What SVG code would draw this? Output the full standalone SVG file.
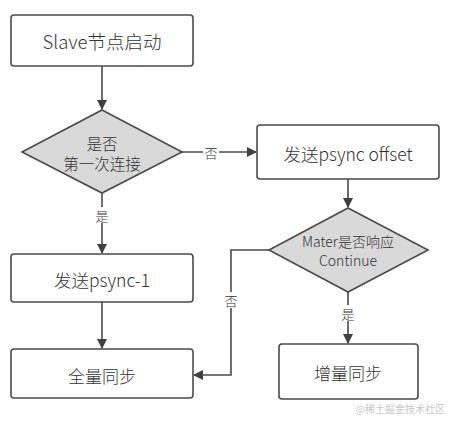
<svg xmlns="http://www.w3.org/2000/svg" width="449" height="421" viewBox="0 0 449 421">
<defs>
<marker id="ah" markerWidth="10" markerHeight="10" refX="9" refY="5" orient="auto" markerUnits="userSpaceOnUse">
<path d="M0,0 L10,5 L0,10 Z" fill="#404040"/>
</marker>
<style>
.box{fill:#fff;stroke:#4a4a4a;stroke-width:1.6}
.dia{fill:#d9d9d9;stroke:#4a4a4a;stroke-width:1.6}
.t{font-family:"Noto Sans CJK SC","Noto Sans",sans-serif;font-weight:300;fill:#333;text-anchor:middle;dominant-baseline:central}
.edge{fill:none;stroke:#4a4a4a;stroke-width:1.6}
.lbl{font-family:"Noto Sans CJK SC",sans-serif;font-weight:300;font-size:13px;fill:#333;text-anchor:middle;dominant-baseline:central}
</style>
</defs>
<rect width="449" height="421" fill="#fff"/>
<g id="connectors">
<line class="edge" x1="102" y1="66" x2="102" y2="109" marker-end="url(#ah)"/>
<line class="edge" x1="182" y1="152" x2="256" y2="152" marker-end="url(#ah)"/>
<rect x="203" y="144" width="16" height="16" fill="#fff"/>
<text class="lbl" x="211" y="152">否</text>
<line class="edge" x1="102" y1="193" x2="102" y2="253" marker-end="url(#ah)"/>
<rect x="94" y="207" width="16" height="16" fill="#fff"/>
<text class="lbl" x="102" y="215">是</text>
<line class="edge" x1="102" y1="302" x2="102" y2="348" marker-end="url(#ah)"/>
<line class="edge" x1="348" y1="179" x2="348" y2="207" marker-end="url(#ah)"/>
<polyline class="edge" points="269,250 231,250 231,375 194,375" marker-end="url(#ah)"/>
<rect x="223" y="292" width="16" height="16" fill="#fff"/>
<text class="lbl" x="231" y="300">否</text>
<line class="edge" x1="348" y1="292" x2="348" y2="343" marker-end="url(#ah)"/>
<rect x="340" y="305" width="16" height="16" fill="#fff"/>
<text class="lbl" x="348" y="313">是</text>
</g>
<g id="start">
<rect class="box" x="11" y="15" width="182" height="51" rx="3"/>
<text class="t" x="102" y="41" font-size="18.5">Slave节点启动</text>
</g>
<g id="first">
<polygon class="dia" points="102,110 182,152 102,193 22,152"/>
<text class="t" x="102" y="143" font-size="15.5">是否</text>
<text class="t" x="102" y="163" font-size="15.5">第一次连接</text>
</g>
<g id="psync-offset">
<rect class="box" x="257" y="125" width="182" height="54" rx="3"/>
<text class="t" x="348" y="153" font-size="17.5">发送psync offset</text>
</g>
<g id="continue">
<polygon class="dia" points="348,208 428,250 348,292 269,250"/>
<text class="t" x="348" y="241" font-size="14">Mater是否响应</text>
<text class="t" x="348" y="260" font-size="14">Continue</text>
</g>
<g id="psync-1">
<rect class="box" x="11" y="254" width="182" height="48" rx="3"/>
<text class="t" x="102" y="279" font-size="17.5">发送psync-1</text>
</g>
<g id="full">
<rect class="box" x="11" y="349" width="182" height="49" rx="3"/>
<text class="t" x="102" y="375" font-size="17">全量同步</text>
</g>
<g id="partial">
<rect class="box" x="279" y="344" width="139" height="55" rx="3"/>
<text class="t" x="348" y="372" font-size="17">增量同步</text>
</g>
<text x="445" y="413" font-family="Noto Sans CJK SC,sans-serif" font-size="10" fill="#c8c8c8" text-anchor="end">@稀土掘金技术社区</text>
</svg>
